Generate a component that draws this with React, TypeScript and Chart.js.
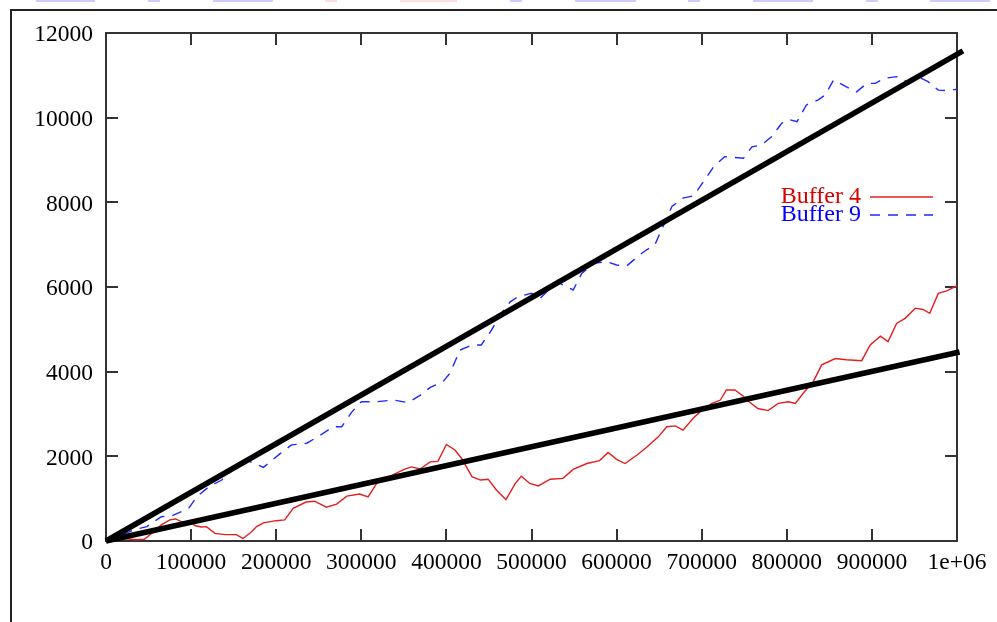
import React, { useEffect, useRef } from "react";
import { Chart, registerables } from "chart.js";

Chart.register(...registerables);

// ---- Data ----
const buffer4X = [0, 20000, 35000, 45000, 55000, 65000, 75000, 82000, 90000, 100000, 105000, 112000, 118000, 128000, 140000, 153000, 161000, 170000, 177000, 185000, 200000, 210000, 220000, 235000, 245000, 259000, 271000, 283000, 298000, 308000, 318000, 337000, 351000, 359000, 369000, 381000, 390000, 400000, 410000, 418000, 430000, 440000, 449000, 459000, 470000, 481000, 488000, 498000, 508000, 522000, 537000, 549000, 565000, 580000, 590000, 600000, 610000, 624000, 635000, 649000, 659000, 669000, 678000, 690000, 698000, 712000, 722000, 729000, 739000, 749000, 753000, 766000, 778000, 790000, 802000, 810000, 821000, 831000, 841000, 857000, 870000, 888000, 898000, 910000, 919000, 929000, 939000, 951000, 960000, 968000, 978000, 988000, 1000000];
const buffer4Y = [0, 60, 30, 40, 200, 380, 500, 520, 440, 440, 360, 330, 340, 180, 150, 150, 60, 200, 340, 430, 480, 500, 770, 920, 940, 800, 870, 1060, 1110, 1040, 1360, 1560, 1700, 1750, 1700, 1870, 1880, 2280, 2150, 1950, 1520, 1440, 1460, 1200, 980, 1360, 1530, 1360, 1300, 1460, 1480, 1690, 1830, 1900, 2090, 1930, 1830, 2030, 2210, 2460, 2700, 2720, 2620, 2900, 3050, 3250, 3330, 3567, 3567, 3420, 3330, 3130, 3080, 3250, 3290, 3250, 3530, 3760, 4160, 4310, 4280, 4260, 4630, 4840, 4710, 5140, 5260, 5500, 5470, 5380, 5850, 5910, 6030];

const buffer9X = [0, 20000, 32000, 48000, 65000, 77000, 97000, 107000, 122000, 136000, 154000, 165000, 185000, 205000, 218000, 236000, 252000, 267000, 277000, 289000, 300000, 318000, 338000, 355000, 369000, 381000, 396000, 404000, 416000, 430000, 441000, 453000, 463000, 475000, 484000, 500000, 510000, 520000, 533000, 549000, 559000, 573000, 588000, 600000, 612000, 627000, 635000, 645000, 655000, 665000, 678000, 690000, 698000, 714000, 727000, 749000, 759000, 770000, 782000, 794000, 802000, 812000, 823000, 837000, 845000, 855000, 870000, 882000, 894000, 904000, 915000, 929000, 941000, 954000, 966000, 978000, 990000, 1000000];
const buffer9Y = [0, 150, 260, 340, 575, 590, 770, 1050, 1300, 1440, 1800, 1910, 1740, 2070, 2270, 2310, 2500, 2700, 2700, 3050, 3290, 3290, 3330, 3270, 3440, 3630, 3764, 3960, 4510, 4630, 4630, 4980, 5340, 5650, 5770, 5850, 5730, 5930, 6090, 5930, 6320, 6560, 6600, 6520, 6500, 6756, 6874, 7000, 7450, 7900, 8100, 8150, 8370, 8840, 9080, 9040, 9310, 9350, 9550, 9865, 9960, 9905, 10300, 10420, 10535, 10890, 10730, 10610, 10810, 10810, 10930, 10970, 10850, 10970, 10850, 10650, 10640, 10670];

// fitted trend lines (endpoints)
const fitHighX = [0, 1007000];
const fitHighY = [0, 11580];
const fitLowX = [0, 1003000];
const fitLowY = [0, 4465];

const xTickMax = 1000000;
const xTickStep = 100000;
const yTickMax = 12000;
const yTickStep = 2000;

const labels = ["Buffer 4", "Buffer 9"];

const topStrips = [
  [36, 95, "#ccccff"], [148, 160, "#ccccff"], [213, 273, "#ccccff"], [325, 337, "#ffdddd"],
  [400, 457, "#ffdddd"], [510, 522, "#ccccff"], [575, 636, "#ccccff"], [688, 700, "#ccccff"],
  [753, 813, "#ccccff"], [866, 878, "#ccccff"], [930, 990, "#ccccff"],
] as const;

const zip = (xs: number[], ys: number[]) => xs.map((x, i) => ({ x, y: ys[i] }));

const FONT = "'Liberation Serif', 'Times New Roman', serif";

const frameTicks = {
  id: "frameTicks",
  beforeDatasetsDraw(chart: any) {
    const { ctx, chartArea: a, scales } = chart;
    ctx.save();
    ctx.strokeStyle = "#333";
    ctx.lineWidth = 2;
    ctx.strokeRect(a.left, a.top, a.right - a.left, a.bottom - a.top);
    const tl = 12;
    ctx.beginPath();
    scales.x.ticks.forEach((t: any) => {
      const px = Math.round(scales.x.getPixelForValue(t.value));
      ctx.moveTo(px, a.bottom);
      ctx.lineTo(px, a.bottom - tl);
      ctx.moveTo(px, a.top);
      ctx.lineTo(px, a.top + tl);
    });
    scales.y.ticks.forEach((t: any) => {
      const py = Math.round(scales.y.getPixelForValue(t.value));
      ctx.moveTo(a.left, py);
      ctx.lineTo(a.left + tl, py);
      ctx.moveTo(a.right, py);
      ctx.lineTo(a.right - tl, py);
    });
    ctx.stroke();
    ctx.restore();
  },
};

const keyPlugin = {
  id: "gnuKey",
  afterDraw(chart: any) {
    const { ctx, chartArea: a } = chart;
    const items = chart.data.datasets.filter((d: any) => d.keyColor);
    ctx.save();
    ctx.font = `24px ${FONT}`;
    ctx.textAlign = "right";
    ctx.textBaseline = "middle";
    items.forEach((d: any, i: number) => {
      const y = a.top + 163 + i * 18;
      ctx.fillStyle = d.keyColor;
      ctx.fillText(d.label, a.right - 96, y + 1);
      ctx.beginPath();
      ctx.strokeStyle = d.borderColor;
      ctx.lineWidth = d.borderWidth;
      ctx.setLineDash(d.borderDash || []);
      ctx.moveTo(a.right - 87, y + 1);
      ctx.lineTo(a.right - 24, y + 1);
      ctx.stroke();
    });
    ctx.restore();
  },
};

export default function App() {
  const ref = useRef<HTMLCanvasElement | null>(null);

  useEffect(() => {
    if (!ref.current) return;
    const chart = new Chart(ref.current, {
      type: "line",
      data: {
        datasets: [
          {
            label: "fit high",
            data: zip(fitHighX, fitHighY),
            borderColor: "#000",
            borderWidth: 5.5,
            pointRadius: 0,
            clip: false,
            order: 0,
          } as any,
          {
            label: "fit low",
            data: zip(fitLowX, fitLowY),
            borderColor: "#000",
            borderWidth: 5.5,
            pointRadius: 0,
            clip: false,
            order: 0,
          } as any,
          {
            label: labels[0],
            data: zip(buffer4X, buffer4Y),
            borderColor: "rgb(228,30,30)",
            keyColor: "rgb(215,0,0)",
            borderWidth: 1.4,
            pointRadius: 0,
            order: 1,
          } as any,
          {
            label: labels[1],
            data: zip(buffer9X, buffer9Y),
            borderColor: "rgb(30,40,255)",
            keyColor: "rgb(0,0,255)",
            borderWidth: 1.4,
            borderDash: [10, 8],
            pointRadius: 0,
            order: 1,
          } as any,
        ],
      },
      options: {
        animation: false,
        responsive: false,
        devicePixelRatio: 1,
        layout: { padding: { left: 0, top: 33, right: 40, bottom: 0 } },
        plugins: { legend: { display: false }, tooltip: { enabled: false } },
        elements: { line: { tension: 0 } },
        scales: {
          x: {
            type: "linear",
            min: 0,
            max: xTickMax,
            grid: { display: false, drawTicks: false },
            border: { display: false },
            ticks: {
              stepSize: xTickStep,
              autoSkip: false,
              maxRotation: 0,
              padding: 8,
              color: "#000",
              font: { family: FONT, size: 23.5 },
              callback: (v: any) => (v === 1000000 ? "1e+06" : String(v)),
            },
            afterFit: (s: any) => {
              s.height = 81;
            },
          },
          y: {
            type: "linear",
            min: 0,
            max: yTickMax,
            grid: { display: false, drawTicks: false },
            border: { display: false },
            ticks: {
              stepSize: yTickStep,
              padding: 13,
              labelOffset: 2,
              color: "#000",
              font: { family: FONT, size: 23.5 },
              callback: (v: any) => String(v),
            },
            afterFit: (s: any) => {
              s.width = 106;
            },
          },
        },
      } as any,
      plugins: [frameTicks, keyPlugin],
    });
    return () => chart.destroy();
  }, []);

  return (
    <div style={{ position: "fixed", left: 0, top: 0, width: 997, height: 622, background: "#fff", overflow: "hidden" }}>
      {topStrips.map(([a, b, c], i) => (
        <div key={i} style={{ position: "absolute", left: a, top: 0, width: b - a, height: 2, background: c }} />
      ))}
      <div
        style={{
          position: "absolute",
          left: 10,
          top: 9,
          right: 0,
          bottom: 0,
          borderTop: "2px solid #222",
          borderLeft: "2px solid #222",
        }}
      />
      <canvas ref={ref} width={997} height={622} style={{ position: "absolute", left: 0, top: 0, width: 997, height: 622 }} />
    </div>
  );
}
